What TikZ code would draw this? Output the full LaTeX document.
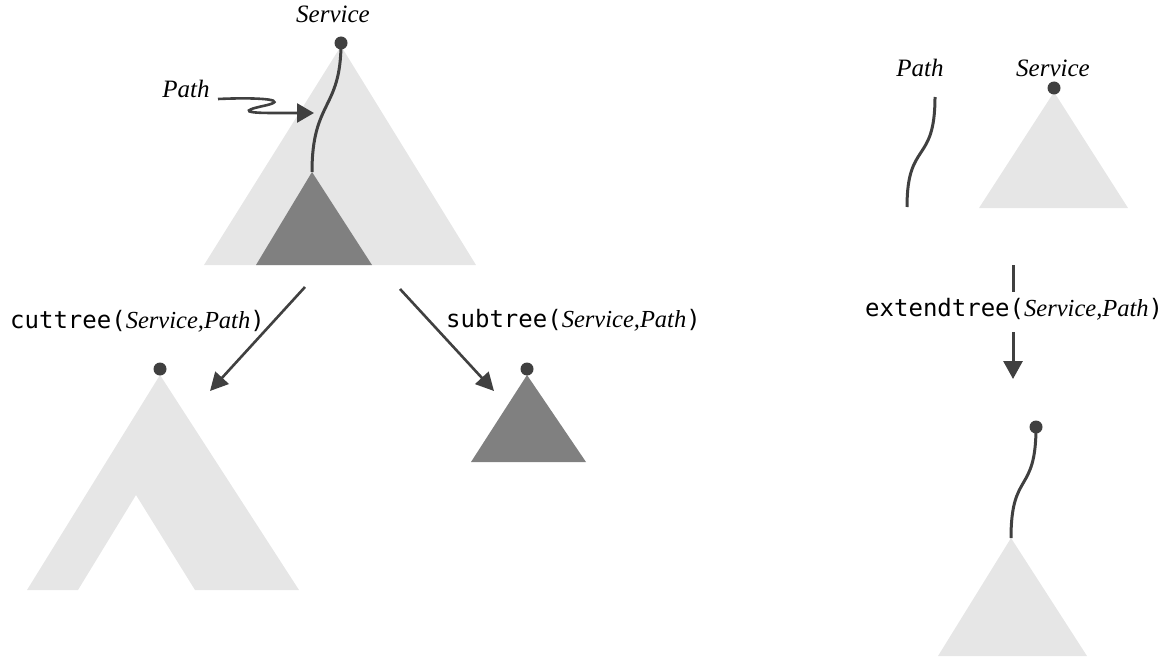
\documentclass[tikz,border=0pt]{standalone}
\usepackage{fontspec}
\setmainfont{Liberation Serif}
\setmonofont{DejaVu Sans Mono}
\usetikzlibrary{arrows.meta}
\definecolor{ink}{HTML}{404040}
\definecolor{lite}{HTML}{E6E6E6}
\definecolor{deep}{HTML}{808080}
\newcommand{\argtext}{{\fontsize{24.5}{28}\selectfont\rmfamily\itshape Service,Path}}
\begin{document}
\begin{tikzpicture}[x=1pt,y=-1pt,
  vtx/.style={circle,fill=ink,draw=none,inner sep=0pt,minimum size=13pt},
  wire/.style={draw=ink,line width=3pt},
  conn/.style={draw=ink,line width=2.6pt,-{Triangle[length=18pt,width=18pt]}},
  tagtext/.style={font=\fontsize{25}{30}\selectfont\itshape,inner sep=0pt,anchor=base},
  oplabel/.style={font=\fontsize{24}{28}\selectfont\ttfamily,inner sep=0pt,anchor=base west}]
\useasboundingbox (0,0) rectangle (1169,658);

% --- original tree with the service path and its subtree
\fill[lite] (341,46) -- (476,265) -- (204,265) -- cycle;
\fill[deep] (312,172) -- (372,265) -- (256,265) -- cycle;
\coordinate (subroot) at (312,172);
\node[vtx] (svc) at (341,43) {};
\draw[wire] (svc.center) .. controls (341,110) and (312,100) .. (subroot);
\node[tagtext] (svclbl) at (333,23) {Service};
\node[tagtext] (pathlbl) at (186,98) {Path};
\coordinate (squigstart) at (218,99);
\coordinate (squigtip) at (314,113);
\draw[draw=ink,line width=2.6pt,-{Triangle[length=17pt,width=19pt]}]
  (squigstart) .. controls (262,97) and (292,100) .. (263,106)
  .. controls (240,111) and (246,113) .. (274,113) -- (squigtip);

% --- operation labels and arrows
\coordinate (cutfrom) at (305,287);
\coordinate (cutto) at (210,391);
\coordinate (subfrom) at (400,289);
\coordinate (subto) at (494,391);
\draw[conn] (cutfrom) -- (cutto);
\draw[conn] (subfrom) -- (subto);
\node[oplabel] (cutlbl) at (10,328) {cuttree(\argtext)};
\node[oplabel] (sublbl) at (446,327) {subtree(\argtext)};

% --- result of cuttree
\fill[lite] (160,375) -- (299,590) -- (195,590) -- (136,495) -- (78,590) -- (27,590) -- cycle;
\node[vtx] (cutroot) at (160,369) {};

% --- result of subtree
\fill[deep] (527,375) -- (586,462) -- (471,462) -- cycle;
\node[vtx] (subroot2) at (527,369) {};

% --- extendtree inputs
\coordinate (ptop) at (935,97);
\coordinate (pbot) at (907,207);
\draw[wire] (ptop) .. controls (935,165) and (907,140) .. (pbot);
\node[tagtext] (pathlbl2) at (920,77) {Path};
\fill[lite] (1054,92) -- (1128,208) -- (979,208) -- cycle;
\node[vtx] (svc2) at (1054,88) {};
\node[tagtext] (svclbl2) at (1053,77) {Service};

% --- extendtree operation
\coordinate (exta) at (1013,265);
\coordinate (extb) at (1013,292);
\coordinate (extc) at (1013,332);
\coordinate (extd) at (1013,379);
\draw[wire] (exta) -- (extb);
\draw[wire,-{Triangle[length=18pt,width=19pt]}] (extc) -- (extd);
\node[oplabel] (extlbl) at (865,316) {extendtree(\argtext)};

% --- result of extendtree
\coordinate (extroot) at (1011,538);
\fill[lite] (1011,538) -- (1087,656) -- (938,656) -- cycle;
\node[vtx] (svc3) at (1036,427) {};
\draw[wire] (svc3.center) .. controls (1036,495) and (1011,470) .. (extroot);
\end{tikzpicture}
\end{document}
